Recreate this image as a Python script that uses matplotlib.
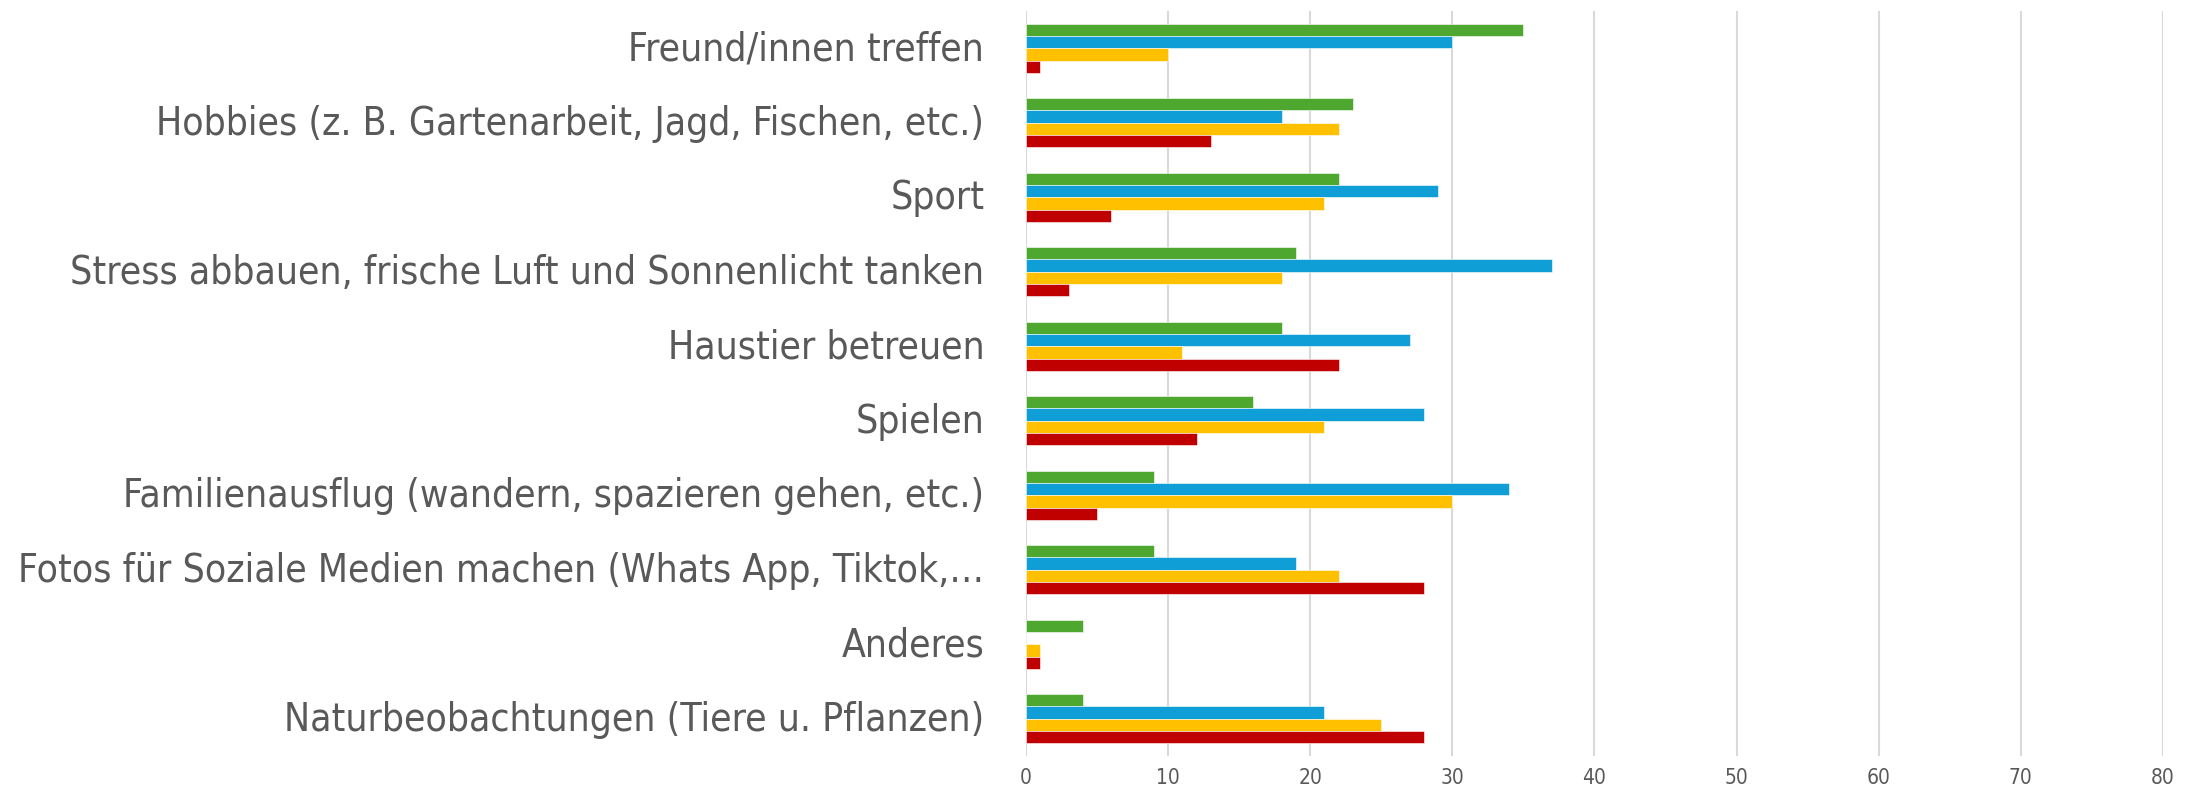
import matplotlib
matplotlib.use("Agg")
import matplotlib.pyplot as plt
from matplotlib import font_manager as fm
import matplotlib.transforms as mtrans
import numpy as np

categories = [
    "Freund/innen treffen",
    "Hobbies (z. B. Gartenarbeit, Jagd, Fischen, etc.)",
    "Sport",
    "Stress abbauen, frische Luft und Sonnenlicht tanken",
    "Haustier betreuen",
    "Spielen",
    "Familienausflug (wandern, spazieren gehen, etc.)",
    "Fotos für Soziale Medien machen (Whats App, Tiktok,…",
    "Anderes",
    "Naturbeobachtungen (Tiere u. Pflanzen)",
]
series_green = [35, 23, 22, 19, 18, 16, 9, 9, 4, 4]
series_blue = [30, 18, 29, 37, 27, 28, 34, 19, 0, 21]
series_yellow = [10, 22, 21, 18, 11, 21, 30, 22, 1, 25]
series_red = [1, 13, 6, 3, 22, 12, 5, 28, 1, 28]
x_ticks = [0, 10, 20, 30, 40, 50, 60, 70, 80]

colors = ["#4EA72E", "#0F9ED5", "#FFC000", "#C00000"]
series = [series_green, series_blue, series_yellow, series_red]

W, H, DPI = 2195, 790, 100
fig = plt.figure(figsize=(W / DPI, H / DPI), dpi=DPI)
ax = fig.add_axes([1026 / W, 1 - 756 / H, (2163 - 1026) / W, (756 - 11) / H])

label_font = fm.FontProperties(family="DejaVu Sans", stretch="condensed", size=28)
tick_font = fm.FontProperties(family="DejaVu Sans", stretch="condensed", size=15)

y = np.arange(len(categories))
h = 0.166
offsets = [-1.5 * h, -0.5 * h, 0.5 * h, 1.5 * h]
for vals, col, off in zip(series, colors, offsets):
    ax.barh(y + off, vals, height=h, color=col, edgecolor="white", linewidth=0.4, zorder=3)

ax.set_xlim(0, 80)
ax.set_ylim(len(categories) - 0.5, -0.5)
ax.set_xticks(x_ticks)
ax.set_xticklabels([str(t) for t in x_ticks], fontproperties=tick_font, color="#595959")
ax.set_yticks(y)
ax.set_yticklabels(categories, fontproperties=label_font, color="#595959")
ax.tick_params(axis="y", length=0, pad=30)
ax.tick_params(axis="x", length=0, pad=9)
shift = mtrans.ScaledTranslation(0, 3 / DPI, fig.dpi_scale_trans)
for lbl in ax.get_yticklabels():
    lbl.set_transform(lbl.get_transform() + shift)
ax.grid(axis="x", color="#D9D9D9", linewidth=1.5, zorder=0)
for s in ax.spines.values():
    s.set_visible(False)

fig.savefig("out.png", dpi=DPI)
